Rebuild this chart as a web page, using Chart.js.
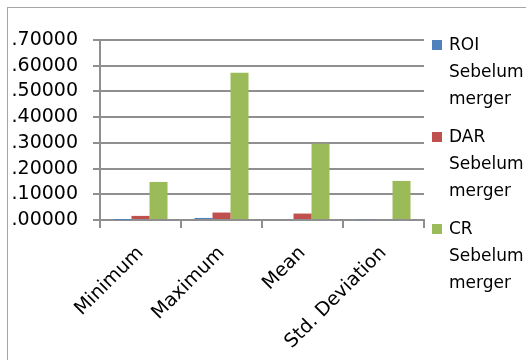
<!DOCTYPE html>
<html>
<head>
<meta charset="utf-8">
<script src="https://cdn.jsdelivr.net/npm/chart.js@4"></script>
<style>
  html, body { margin: 0; padding: 0; background: #fff; }
  #wrap { position: relative; width: 526px; height: 360px; overflow: hidden; }
  #frame { position: absolute; left: 7px; top: 7px; width: 600px; height: 400px;
           border-left: 1px solid #a6a6a6; border-top: 1px solid #a6a6a6; }
  canvas { position: absolute; left: 0; top: 0; }
  #legend { position: absolute; left: 432px; top: 31px; font-family: "DejaVu Sans", sans-serif;
            font-size: 17px; line-height: 27px; color: #000; }
  .item { position: relative; padding-left: 17px; margin-bottom: 11px; }
  .box { position: absolute; left: 0; top: 9px; width: 10px; height: 10px; }
</style>
</head>
<body>
<div id="wrap">
  <div id="frame"></div>
  <canvas id="chart" width="526" height="360"></canvas>
  <div id="legend"></div>
</div>
<script>
"use strict";

const categories = ["Minimum", "Maximum", "Mean", "Std. Deviation"];
const seriesNames = [["ROI", "Sebelum", "merger"], ["DAR", "Sebelum", "merger"], ["CR", "Sebelum", "merger"]];
const roiValues = [0.0005, 0.008, 0.004, 0.003];
const darValues = [0.016, 0.029, 0.025, 0.004];
const crValues = [0.148, 0.573, 0.297, 0.152];
const yTicks = [0, 0.1, 0.2, 0.3, 0.4, 0.5, 0.6, 0.7];

const colors = ["#4f81bd", "#c0504d", "#9bbb59"];
const gridColor = "#8f8f8f";

const datasets = [roiValues, darValues, crValues].map((values, i) => ({
  label: seriesNames[i].join(" "),
  data: values,
  backgroundColor: colors[i],
  borderWidth: 0,
  barPercentage: 1,
  categoryPercentage: 0.667
}));

new Chart(document.getElementById("chart"), {
  type: "bar",
  data: { labels: categories, datasets },
  options: {
    responsive: false,
    animation: false,
    layout: { padding: { left: 0, top: 40, right: 102, bottom: 0 } },
    plugins: { legend: { display: false }, tooltip: { enabled: false } },
    scales: {
      x: {
        grid: { drawOnChartArea: false, drawTicks: true, tickLength: 8, color: gridColor, lineWidth: 2, offset: true },
        border: { color: gridColor, width: 2 },
        ticks: {
          color: "#000",
          font: { family: "DejaVu Sans", size: 19 },
          autoSkip: false,
          maxRotation: 45,
          minRotation: 45,
          padding: 14
        },
        afterFit: scale => { scale.height = 140; }
      },
      y: {
        min: 0,
        max: 0.7,
        afterBuildTicks: scale => { scale.ticks = yTicks.map(v => ({ value: v })); },
        grid: { color: gridColor, lineWidth: 2, tickLength: 7 },
        border: { color: gridColor, width: 2 },
        ticks: {
          color: "#000",
          font: { family: "DejaVu Sans", size: 19 },
          autoSkip: false,
          padding: 15,
          callback: v => Number(v).toFixed(5).replace(/^0/, "")
        },
        afterFit: scale => { scale.width = 100; }
      }
    }
  }
});

const legend = document.getElementById("legend");
seriesNames.forEach((lines, i) => {
  const item = document.createElement("div");
  item.className = "item";
  item.innerHTML = `<span class="box" style="background:${colors[i]}"></span>${lines.join("<br>")}`;
  legend.appendChild(item);
});
</script>
</body>
</html>
